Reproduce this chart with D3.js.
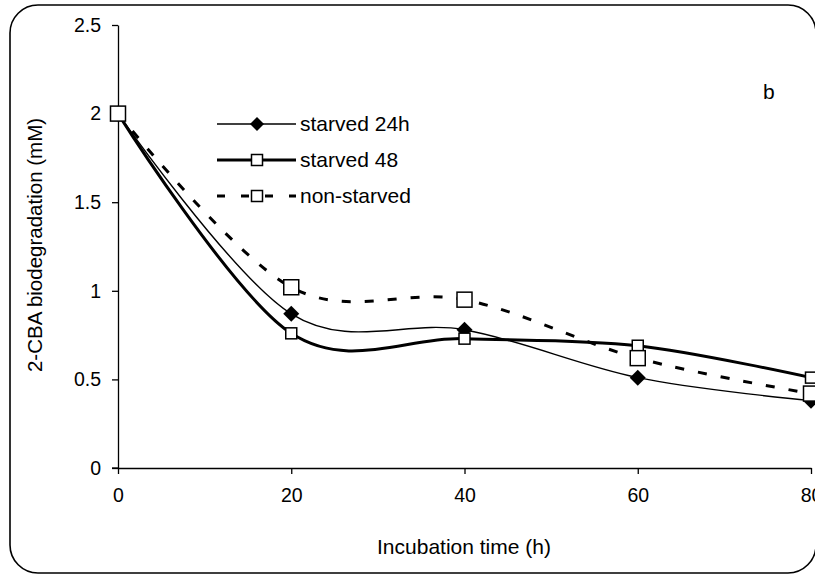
<!DOCTYPE html>
<html>
<head>
<meta charset="utf-8">
<script src="https://cdn.jsdelivr.net/npm/d3@7"></script>
<style>
  body { margin: 0; background: #fff; }
  svg { display: block; font-family: "Liberation Sans", Arial, sans-serif; }
</style>
</head>
<body>
<div id="chart"></div>
<script>
// values
var hours = [0, 20, 40, 60, 80];
var starved24 = [2.0, 0.87, 0.78, 0.51, 0.38];
var starved48 = [2.0, 0.76, 0.73, 0.69, 0.51];
var nonStarved = [2.0, 1.02, 0.95, 0.62, 0.42];
var xTicks = [0, 20, 40, 60, 80];
var yTicks = [0, 0.5, 1, 1.5, 2, 2.5];

var width = 815, height = 575;

var svg = d3.select("#chart").append("svg")
    .attr("width", width)
    .attr("height", height);

// rounded frame
svg.append("rect")
    .attr("x", 10).attr("y", 5)
    .attr("width", 806).attr("height", 568)
    .attr("rx", 28).attr("ry", 28)
    .attr("fill", "none")
    .attr("stroke", "#000")
    .attr("stroke-width", 1.6);

var x = d3.scaleLinear().domain([0, 80]).range([118, 811]);
var y = d3.scaleLinear().domain([0, 2.5]).range([468, 25]);

// axes
var xAxis = svg.append("g")
    .attr("transform", "translate(0," + y(0) + ")")
    .call(d3.axisBottom(x).tickValues(xTicks).tickSize(6).tickSizeOuter(0).tickPadding(14));
var yAxis = svg.append("g")
    .attr("transform", "translate(" + x(0) + ",0)")
    .call(d3.axisLeft(y).tickValues(yTicks).tickSize(6).tickSizeOuter(0).tickPadding(11)
        .tickFormat(function(d) { return String(d); }));

[xAxis, yAxis].forEach(function(g) {
    g.select(".domain").attr("stroke", "#000").attr("stroke-width", 1.3);
    g.selectAll(".tick line").attr("stroke", "#000").attr("stroke-width", 1.3);
    g.selectAll(".tick text").attr("fill", "#000").attr("font-size", 19.5)
        .attr("font-family", "Liberation Sans, Arial, sans-serif");
});
// x axis line also extends a little left of the y axis
xAxis.append("line").attr("x1", x(0) - 6).attr("x2", x(0)).attr("stroke", "#000").attr("stroke-width", 1.3);

// axis titles
svg.append("text")
    .attr("x", 464).attr("y", 554)
    .attr("text-anchor", "middle")
    .attr("font-size", 21)
    .text("Incubation time (h)");

svg.append("text")
    .attr("transform", "translate(42,245) rotate(-90)")
    .attr("text-anchor", "middle")
    .attr("font-size", 20.5)
    .text("2-CBA biodegradation (mM)");

svg.append("text")
    .attr("x", 763).attr("y", 99)
    .attr("font-size", 21)
    .text("b");

var line = d3.line()
    .x(function(d) { return x(d[0]); })
    .y(function(d) { return y(d[1]); })
    .curve(d3.curveCardinal.tension(0));

function pairs(vals) {
    return hours.map(function(h, i) { return [h, vals[i]]; });
}

var series = [
    { name: "starved 24h", values: starved24, width: 1.4, dash: null, marker: "diamond", size: 16 },
    { name: "starved 48", values: starved48, width: 3, dash: null, marker: "square", size: 11 },
    { name: "non-starved", values: nonStarved, width: 3, dash: "9,14", marker: "square", size: 15 }
];

function drawMarker(g, s, cx, cy) {
    if (s.marker === "diamond") {
        var r = s.size / 2;
        g.append("path")
            .attr("d", "M" + cx + "," + (cy - r) + "L" + (cx + r) + "," + cy + "L" + cx + "," + (cy + r) + "L" + (cx - r) + "," + cy + "Z")
            .attr("fill", "#000");
    } else {
        g.append("rect")
            .attr("x", cx - s.size / 2).attr("y", cy - s.size / 2)
            .attr("width", s.size).attr("height", s.size)
            .attr("fill", "#fff")
            .attr("stroke", "#000")
            .attr("stroke-width", 1.5);
    }
}

series.forEach(function(s) {
    var g = svg.append("g");
    g.append("path")
        .datum(pairs(s.values))
        .attr("d", line)
        .attr("fill", "none")
        .attr("stroke", "#000")
        .attr("stroke-width", s.width)
        .attr("stroke-dasharray", s.dash);
    pairs(s.values).forEach(function(p) {
        drawMarker(g, s, x(p[0]), y(p[1]));
    });
});

// legend
var legend = svg.append("g");
series.forEach(function(s, i) {
    var ly = 124 + i * 36;
    legend.append("line")
        .attr("x1", 217).attr("x2", 296)
        .attr("y1", ly).attr("y2", ly)
        .attr("stroke", "#000")
        .attr("stroke-width", s.width)
        .attr("stroke-dasharray", s.dash ? "8,16" : null);
    var ms = Object.assign({}, s, { size: s.marker === "diamond" ? 14 : 11 });
    drawMarker(legend, ms, 257, ly);
    legend.append("text")
        .attr("x", 300).attr("y", ly + 7)
        .attr("font-size", 21)
        .text(s.name);
});
</script>
</body>
</html>
